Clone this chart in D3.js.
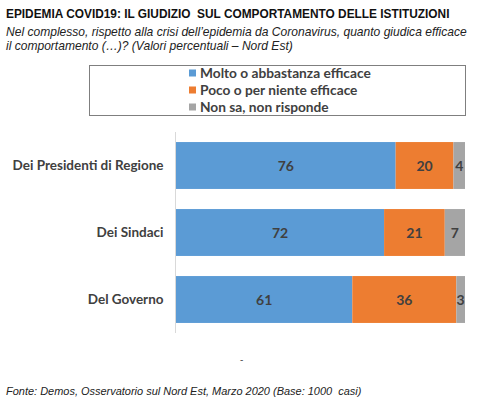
<!DOCTYPE html>
<html>
<head>
<meta charset="utf-8">
<script src="https://cdn.jsdelivr.net/npm/d3@7"></script>
<style>
  body { margin: 0; background: #fff; }
  svg { display: block; }
</style>
</head>
<body>
<svg width="490" height="397"></svg>
<script>
// data
var categories = ["Dei Presidenti di Regione", "Dei Sindaci", "Del Governo"];
var seriesNames = ["Molto o abbastanza efficace", "Poco o per niente efficace", "Non sa, non risponde"];
var efficace = [76, 72, 61];
var nonEfficace = [20, 21, 36];
var nonSa = [4, 7, 3];
var colors = ["#5b9bd5", "#ed7d31", "#a5a5a5"];

var svg = d3.select("svg");

// scale a text selection's font so its first node spans the given width
function fitWidth(sel, size, target) {
  sel.attr("font-size", size + "px");
  var w = sel.node().getComputedTextLength();
  sel.attr("font-size", (size * target / w) + "px");
}

var rows = categories.map(function(c, i) {
  return { cat: c, s0: efficace[i], s1: nonEfficace[i], s2: nonSa[i] };
});
var stack = d3.stack().keys(["s0", "s1", "s2"])(rows);

var x = d3.scaleLinear().domain([0, 100]).range([176, 465]);
var y = d3.scaleBand().domain(categories).range([132, 333]).paddingInner(0.3).paddingOuter(0.15);

// titles
var title = svg.append("text")
  .attr("x", 6).attr("y", 18)
  .attr("font-family", "Liberation Sans, Arial, sans-serif")
  .attr("font-weight", "bold")
  .attr("fill", "#111")
  .style("white-space", "pre")
  .text("EPIDEMIA COVID19: IL GIUDIZIO  SUL COMPORTAMENTO DELLE ISTITUZIONI");
fitWidth(title, 12, 444);

var sub = ["Nel complesso, rispetto alla crisi dell\u2019epidemia da Coronavirus, quanto giudica efficace",
  "il comportamento (\u2026)? (Valori percentuali \u2013 Nord Est)"];
var subText = svg.selectAll("text.sub")
  .data(sub)
  .enter().append("text")
  .attr("class", "sub")
  .attr("x", 6)
  .attr("y", function(d, i) { return 36 + i * 13.5; })
  .attr("font-family", "Liberation Sans, Arial, sans-serif")
  .attr("font-style", "italic")
  .attr("fill", "#222")
  .text(function(d) { return d; });
fitWidth(subText, 12, 461);

// legend
svg.append("rect")
  .attr("x", 89.5).attr("y", 65.5)
  .attr("width", 376).attr("height", 50)
  .attr("fill", "none")
  .attr("stroke", "#7f7f7f");

var leg = svg.selectAll("g.leg")
  .data(seriesNames)
  .enter().append("g")
  .attr("class", "leg")
  .attr("transform", function(d, i) { return "translate(189," + (73 + i * 17) + ")"; });
leg.append("rect")
  .attr("x", 0).attr("y", -3.5)
  .attr("width", 7).attr("height", 7)
  .attr("fill", function(d, i) { return colors[i]; });
var legText = leg.append("text")
  .attr("x", 11).attr("y", 5)
  .attr("font-family", "Lato, sans-serif")
  .attr("font-weight", "bold")
  .attr("fill", "#404040")
  .text(function(d) { return d; });
fitWidth(legText, 14, 171);

// bars
var layer = svg.selectAll("g.layer")
  .data(stack)
  .enter().append("g")
  .attr("class", "layer")
  .attr("fill", function(d, i) { return colors[i]; });

layer.selectAll("rect")
  .data(function(d) { return d; })
  .enter().append("rect")
  .attr("x", function(d) { return x(d[0]); })
  .attr("y", function(d) { return y(d.data.cat); })
  .attr("width", function(d) { return x(d[1]) - x(d[0]); })
  .attr("height", y.bandwidth());

layer.selectAll("text")
  .data(function(d) { return d; })
  .enter().append("text")
  .attr("x", function(d) { return (x(d[0]) + x(d[1])) / 2; })
  .attr("y", function(d) { return y(d.data.cat) + y.bandwidth() / 2 + 5; })
  .attr("text-anchor", "middle")
  .attr("font-family", "Lato, sans-serif")
  .attr("font-size", "14px")
  .attr("font-weight", "bold")
  .attr("fill", "#404040")
  .text(function(d) { return d[1] - d[0]; });

// axis
var yAxis = svg.append("g")
  .attr("transform", "translate(175.5,0)")
  .call(d3.axisLeft(y).tickSize(0).tickPadding(12));
yAxis.select(".domain").attr("stroke", "#d9d9d9").attr("d", "M0,132V333");
var tickText = yAxis.selectAll("text")
  .attr("font-family", "Lato, sans-serif")
  .attr("font-weight", "bold")
  .attr("fill", "#404040");
fitWidth(tickText, 13, 151);

svg.append("text")
  .attr("x", 240).attr("y", 363)
  .attr("font-family", "Liberation Sans, Arial, sans-serif")
  .attr("font-size", "10px")
  .attr("fill", "#555")
  .text("-");

var foot = svg.append("text")
  .attr("x", 6).attr("y", 395)
  .attr("font-family", "Liberation Sans, Arial, sans-serif")
  .attr("font-style", "italic")
  .attr("fill", "#222")
  .style("white-space", "pre")
  .text("Fonte: Demos, Osservatorio sul Nord Est, Marzo 2020 (Base: 1000  casi)");
fitWidth(foot, 10.5, 356);
</script>
</body>
</html>
